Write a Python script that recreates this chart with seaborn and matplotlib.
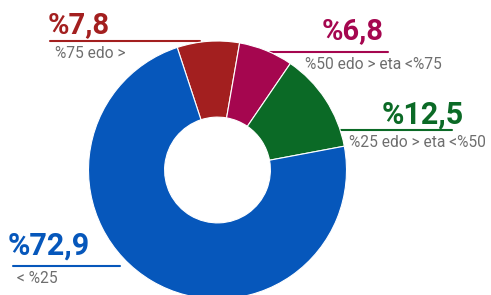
import seaborn as sns
import matplotlib.pyplot as plt

sns.set_theme(style="white")
plt.rcParams["font.family"] = ["Roboto", "DejaVu Sans"]

# data, clockwise from the top-left
shares = [7.8, 6.8, 12.5, 72.9]
groups = ["%75 edo >", "%50 edo > eta <%75", "%25 edo > eta <%50", "< %25"]
colors = ["#a31f1f", "#a5064f", "#0b6a26", "#0657bb"]

# label layout in pixels:
# (value x, value baseline y, value size, line y, line x0, line x1, group x)
label_pos = [
    (48, 33, 21, 41, 50, 200, 55),
    (322, 39, 21, 52, 270, 388, 305),
    (382, 124, 22, 130, 335, 452, 349),
    (8, 255, 22, 266, 13, 120, 17),
]

W, H = 491, 295
fig = plt.figure(figsize=(W / 100, H / 100), dpi=100)
ax = fig.add_axes([0, 0, 1, 1])

cx, cy, r = 217.5, H - 170, 129
ax.pie(
    shares,
    colors=colors,
    startangle=108.2,
    counterclock=False,
    center=(cx, cy),
    radius=r,
    frame=True,
    wedgeprops=dict(width=r * 0.59, edgecolor="white", linewidth=0.8, zorder=3),
)
ax.set_xlim(0, W)
ax.set_ylim(0, H)
ax.set_axis_off()

for share, group, color, (tx, ty, fs, ly, lx0, lx1, gx) in zip(shares, groups, colors, label_pos):
    value = f"%{share:.1f}".replace(".", ",")
    ax.text(tx, H - ty, value, color=color, fontsize=fs, fontweight="bold",
            ha="left", va="baseline", zorder=4)
    ax.plot([lx0, lx1], [H - ly, H - ly], color=color, linewidth=1.5, zorder=1)
    ax.text(gx, H - ly - 17, group, color="#6e6e6e",
            fontsize=11.2, ha="left", va="baseline", zorder=4)

fig.savefig("out.png", dpi=100)
